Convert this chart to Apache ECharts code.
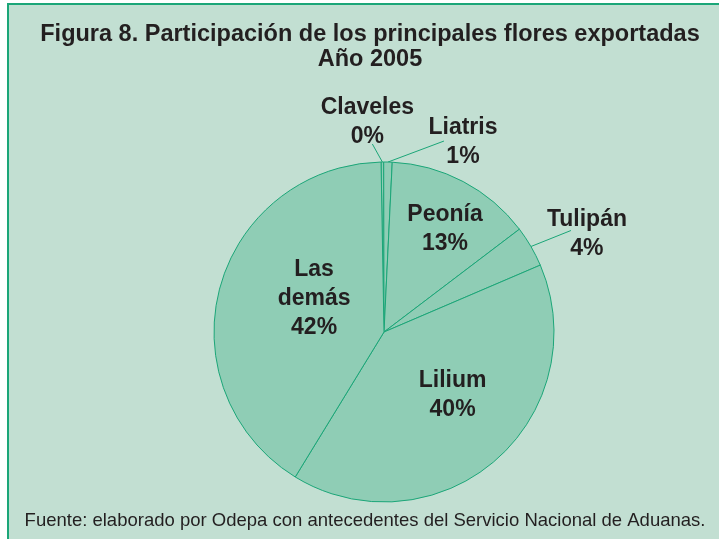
<!DOCTYPE html>
<html>
<head>
<meta charset="utf-8">
<script src="https://cdn.jsdelivr.net/npm/echarts@6/dist/echarts.min.js"></script>
<style>
  html, body { margin: 0; padding: 0; background: #ffffff; }
  #main { width: 719px; height: 539px; }
</style>
</head>
<body>
<div id="main"></div>
<script>
// datos
var categorias = ['Claveles', 'Liatris', 'Peonía', 'Tulipán', 'Lilium', 'Las demás'];
var participacion = [0.25, 0.8, 13.9, 3.9, 40.2, 41.0];
var etiquetasPct = ['0%', '1%', '13%', '4%', '40%', '42%'];
var nombresEtiqueta = ['Claveles', 'Liatris', 'Peonía', 'Tulipán', 'Lilium', 'Las\ndemás'];

var verde = '#1ba678';
var fondo = '#c2dfd2';
var relleno = '#8fcdb5';

// etiquetas afuera para los sectores chicos, adentro para los grandes
var afuera = { 'Claveles': true, 'Liatris': true, 'Tulipán': true };
// adentro: desplazamiento de la etiqueta
// afuera: centro de la etiqueta y punta de la linea, relativos al punto de anclaje
var ajuste = {
    'Claveles': { texto: [-15, -40], linea: [-10, -18] },
    'Liatris': { texto: [75, -20], linea: [56, -21] },
    'Peonía': { texto: [20, -25] },
    'Tulipán': { texto: [56, -12], linea: [40, -16] },
    'Lilium': { texto: [11, -3] },
    'Las demás': { texto: [15, -10] }
};

var datos = categorias.map(function (c, i) {
    var lineas = nombresEtiqueta[i].split('\n').concat([etiquetasPct[i]]);
    return {
        name: c,
        value: participacion[i],
        label: {
            position: afuera[c] ? 'outside' : 'inside',
            formatter: lineas.map(function (t) { return '{c|' + t + '}'; }).join('\n')
        },
        labelLine: afuera[c] ? { show: true, length: 12, length2: 0 } : { show: false }
    };
});

var chart = echarts.init(document.getElementById('main'));
chart.setOption({
    animation: false,
    backgroundColor: '#ffffff',
    graphic: [{
        type: 'rect',
        z: -10,
        shape: { x: 8, y: 4, width: 740, height: 560 },
        style: { fill: fondo, stroke: verde, lineWidth: 2 }
    }],
    title: [{
        text: 'Figura 8. Participación de los principales flores exportadas\nAño 2005',
        left: 365,
        top: 17,
        textAlign: 'center',
        textStyle: {
            fontFamily: 'Liberation Sans',
            fontSize: 23.5,
            fontWeight: 'bold',
            color: '#231f20',
            lineHeight: 25
        }
    }, {
        text: 'Fuente: elaborado por Odepa con antecedentes del Servicio Nacional de Aduanas.',
        left: 360,
        top: 506,
        textAlign: 'center',
        textStyle: {
            fontFamily: 'Liberation Sans',
            fontSize: 18.5,
            fontWeight: 'normal',
            color: '#231f20'
        }
    }],
    series: [{
        type: 'pie',
        center: [384, 332],
        radius: [0, 170],
        startAngle: 91,
        clockwise: true,
        avoidLabelOverlap: false,
        minAngle: 0,
        data: datos,
        itemStyle: {
            color: relleno,
            borderColor: verde,
            borderWidth: 1
        },
        label: {
            color: '#231f20',
            fontFamily: 'Liberation Sans',
            fontSize: 23,
            fontWeight: 'bold',
            lineHeight: 29,
            rich: {
                c: {
                    width: 100,
                    align: 'center',
                    color: '#231f20',
                    fontFamily: 'Liberation Sans',
                    fontSize: 23,
                    fontWeight: 'bold',
                    lineHeight: 29
                }
            }
        },
        labelLine: {
            lineStyle: { color: verde, width: 1 }
        },
        labelLayout: function (p) {
            var nombre = categorias[p.dataIndex];
            var a = ajuste[nombre];
            var r = p.labelRect;
            if (!afuera[nombre]) {
                return { dx: a.texto[0], dy: a.texto[1] };
            }
            var ancla = p.labelLinePoints[0];
            return {
                dx: ancla[0] + a.texto[0] - (r.x + r.width / 2),
                dy: ancla[1] + a.texto[1] - (r.y + r.height / 2),
                labelLinePoints: [
                    ancla,
                    [ancla[0] + a.linea[0], ancla[1] + a.linea[1]],
                    [ancla[0] + a.linea[0], ancla[1] + a.linea[1]]
                ]
            };
        },
        emphasis: { disabled: true }
    }]
});
</script>
</body>
</html>
